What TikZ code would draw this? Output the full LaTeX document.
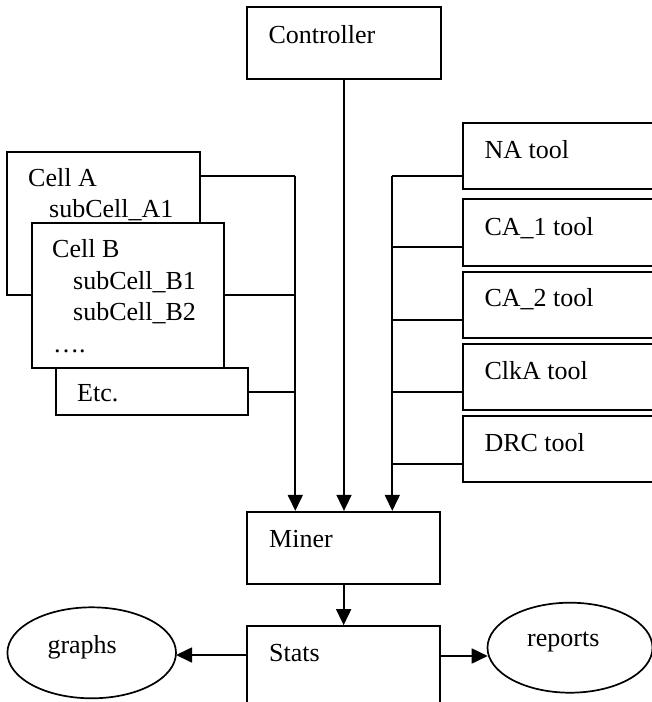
\documentclass[tikz,border=0pt]{standalone}
\usepackage{fontspec}
\setmainfont{Liberation Serif}
\usetikzlibrary{arrows.meta,shapes.geometric}
\tikzset{
  box/.style={draw, line width=1.7pt, fill=white, inner sep=0pt},
  oval/.style={draw, ellipse, line width=1.7pt, inner sep=0pt},
  txt/.style={anchor=base west, inner sep=0pt, font=\fontsize{26}{31}\selectfont},
  wire/.style={line width=1.7pt},
  arr/.style={line width=1.7pt, -{Triangle[length=16pt,width=15pt]}}
}
\begin{document}
\begin{tikzpicture}[x=1pt,y=-1pt]
\useasboundingbox (0,0) rectangle (652,702);
% boxes
\node[box, minimum width=193.4, minimum height=72] (ctrl) at (344,43) {};
\node[box, minimum width=192.7, minimum height=143.3] (cellA) at (103.65,223.65) {};
\node[box, minimum width=192.3, minimum height=144.7] (cellB) at (127.85,295.65) {};
\node[box, minimum width=192.6, minimum height=47.3] (etc) at (152,391.65) {};
\node[box, minimum width=257.3, minimum height=66.6] (na) at (591.35,156) {};
\node[box, minimum width=257.3, minimum height=66.7] (ca1) at (591.35,232.65) {};
\node[box, minimum width=257.3, minimum height=66] (ca2) at (591.35,305) {};
\node[box, minimum width=257.3, minimum height=66] (clka) at (591.35,377) {};
\node[box, minimum width=257.3, minimum height=65.7] (drc) at (591.35,448.85) {};
\node[box, minimum width=192.7, minimum height=72.3] (miner) at (343.65,547.85) {};
\node[box, minimum width=192.7, minimum height=114] (stats) at (343.65,683) {};
\node[oval, minimum width=168.6, minimum height=91] (graphs) at (91.7,652.8) {};
\node[oval, minimum width=165, minimum height=90] (reports) at (570,647.7) {};
% texts
\node[txt] (tctrl) at (268.3,43.3) {Controller};
\node[txt] (tcellA) at (28,186) {Cell A};
\node[txt] (tsubA1) at (49,217) {subCell\_A1};
\node[txt] (tcellB) at (52,257) {Cell B};
\node[txt] (tsubB1) at (73,289) {subCell\_B1};
\node[txt] (tsubB2) at (73,320) {subCell\_B2};
\node[txt] (tdots) at (53,352) {….};
\node[txt] (tetc) at (77,401) {Etc.};
\node[txt] (tna) at (484.3,158) {NA tool};
\node[txt] (tca1) at (484.3,235) {CA\_1 tool};
\node[txt] (tca2) at (484.3,306) {CA\_2 tool};
\node[txt] (tclka) at (484.3,379) {ClkA tool};
\node[txt] (tdrc) at (484.3,451) {DRC tool};
\node[txt] (tminer) at (269,547.7) {Miner};
\node[txt] (tstats) at (269,661.7) {Stats};
\node[txt, anchor=base] (tgraphs) at (82.2,653) {graphs};
\node[txt, anchor=base] (treports) at (563.3,646.7) {reports};
% junction coordinates
\coordinate (jA) at (295.3,176);
\coordinate (jB) at (295.3,295.3);
\coordinate (jE) at (295.3,392);
\coordinate (jN) at (392.3,176);
\coordinate (j1) at (392.3,247.3);
\coordinate (j2) at (392.3,320);
\coordinate (j3) at (392.3,391.7);
\coordinate (j4) at (392.3,464.3);
\coordinate (sg) at (176,655);
\coordinate (sr) at (487.7,656);
% left feeds
\draw[wire] (cellA.east |- jA) -- (jA);
\draw[wire] (cellB.east |- jB) -- (jB);
\draw[wire] (etc.east |- jE) -- (jE);
\draw[arr] (jA) -- (miner.north -| jA);
% right feeds
\draw[wire] (na.west |- jN) -- (jN);
\draw[wire] (ca1.west |- j1) -- (j1);
\draw[wire] (ca2.west |- j2) -- (j2);
\draw[wire] (clka.west |- j3) -- (j3);
\draw[wire] (drc.west |- j4) -- (j4);
\draw[arr] (jN) -- (miner.north -| jN);
% controller
\draw[arr] (ctrl.south) -- (miner.north -| ctrl.south);
% miner to stats
\draw[arr] (miner.south) -- (stats.north -| miner.south);
% stats outputs
\draw[arr] (stats.west |- sg) -- (sg);
\draw[arr] (stats.east |- sr) -- (sr);
\end{tikzpicture}
\end{document}
